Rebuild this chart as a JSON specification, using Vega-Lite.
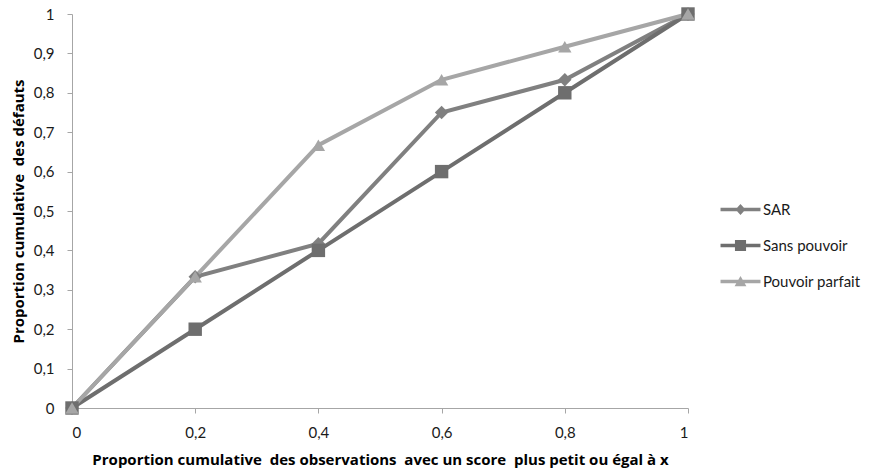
{
  "$schema": "https://vega.github.io/schema/vega-lite/v6.json",
  "width": 616,
  "height": 394,
  "autosize": "none",
  "padding": {"left": 72, "top": 14, "right": 199, "bottom": 65},
  "background": "white",
  "config": {
    "font": "Lato",
    "view": {"stroke": null},
    "axis": {
      "grid": false,
      "domainColor": "#a6a6a6",
      "tickColor": "#a6a6a6",
      "labelColor": "#1a1a1a",
      "labelFontSize": 15,
      "titleFont": "Open Sans",
      "titleFontSize": 15,
      "titleFontWeight": "bold",
      "titleColor": "#000000",
      "tickSize": 5
    }
  },
  "data": {
    "values": [
      {"series": "SAR", "x": 0, "y": 0},
      {"series": "SAR", "x": 0.2, "y": 0.333},
      {"series": "SAR", "x": 0.4, "y": 0.417},
      {"series": "SAR", "x": 0.6, "y": 0.75},
      {"series": "SAR", "x": 0.8, "y": 0.833},
      {"series": "SAR", "x": 1, "y": 1},
      {"series": "Sans pouvoir", "x": 0, "y": 0},
      {"series": "Sans pouvoir", "x": 0.2, "y": 0.2},
      {"series": "Sans pouvoir", "x": 0.4, "y": 0.4},
      {"series": "Sans pouvoir", "x": 0.6, "y": 0.6},
      {"series": "Sans pouvoir", "x": 0.8, "y": 0.8},
      {"series": "Sans pouvoir", "x": 1, "y": 1},
      {"series": "Pouvoir parfait", "x": 0, "y": 0},
      {"series": "Pouvoir parfait", "x": 0.2, "y": 0.333},
      {"series": "Pouvoir parfait", "x": 0.4, "y": 0.667},
      {"series": "Pouvoir parfait", "x": 0.6, "y": 0.833},
      {"series": "Pouvoir parfait", "x": 0.8, "y": 0.917},
      {"series": "Pouvoir parfait", "x": 1, "y": 1}
    ]
  },
  "encoding": {
    "x": {
      "field": "x", "type": "quantitative",
      "scale": {"domain": [0, 1], "nice": false},
      "axis": {
        "values": [0, 0.2, 0.4, 0.6, 0.8, 1],
        "labelExpr": "replace(format(datum.value, '.1~f'), '.', ',')",
        "title": "Proportion cumulative \u00a0des observations \u00a0avec un score \u00a0plus petit ou égal à x",
        "labelPadding": 12,
        "titlePadding": 12
      }
    },
    "y": {
      "field": "y", "type": "quantitative",
      "scale": {"domain": [0, 1], "nice": false},
      "axis": {
        "values": [0, 0.1, 0.2, 0.3, 0.4, 0.5, 0.6, 0.7, 0.8, 0.9, 1],
        "labelExpr": "replace(format(datum.value, '.1~f'), '.', ',')",
        "title": "Proportion cumulative \u00a0des défauts",
        "labelPadding": 13,
        "titlePadding": 7
      }
    },
    "color": {
      "field": "series", "type": "nominal",
      "scale": {"domain": ["SAR", "Sans pouvoir", "Pouvoir parfait"], "range": ["#808080", "#6e6e6e", "#a6a6a6"]}
    }
  },
  "layer": [
    {
      "mark": {"type": "line", "strokeWidth": 4},
      "encoding": {"color": {"field": "series", "type": "nominal", "legend": null}}
    },
    {
      "mark": {"type": "point", "filled": true, "opacity": 1},
      "encoding": {
        "color": {"field": "series", "type": "nominal", "legend": null},
        "shape": {"field": "series", "type": "nominal", "legend": null,
          "scale": {"domain": ["SAR", "Sans pouvoir", "Pouvoir parfait"], "range": ["diamond", "square", "triangle-up"]}},
        "size": {"value": 180}
      }
    },
    {
      "mark": {"type": "point", "filled": true, "opacity": 0},
      "encoding": {
        "color": {"field": "series", "type": "nominal",
          "legend": {"title": null, "orient": "none", "legendX": 650, "legendY": 177, "labelFontSize": 15, "labelColor": "#1a1a1a", "symbolOpacity": 1, "symbolSize": 1369, "labelOffset": 4, "rowPadding": 9, "symbolStrokeWidth": 0}},
        "shape": {"field": "series", "type": "nominal",
          "scale": {"domain": ["SAR", "Sans pouvoir", "Pouvoir parfait"], "range": [
            "M-1.08,-0.1H1.08V0.1H-1.08Z M0,-0.3L0.27,0L0,0.3L-0.27,0Z",
            "M-1.08,-0.1H1.08V0.1H-1.08Z M-0.3,-0.3H0.3V0.3H-0.3Z",
            "M-1.08,-0.1H1.08V0.1H-1.08Z M0,-0.3L0.32,0.25H-0.32Z"
          ]},
          "legend": {"title": null, "orient": "none", "legendX": 650, "legendY": 177, "labelFontSize": 15, "labelColor": "#1a1a1a", "symbolOpacity": 1, "symbolSize": 1369, "labelOffset": 4, "rowPadding": 9, "symbolStrokeWidth": 0}},
        "size": {"value": 1369}
      }
    }
  ],
  "resolve": {"scale": {"shape": "independent"}, "legend": {"color": "independent", "shape": "independent"}}
}
